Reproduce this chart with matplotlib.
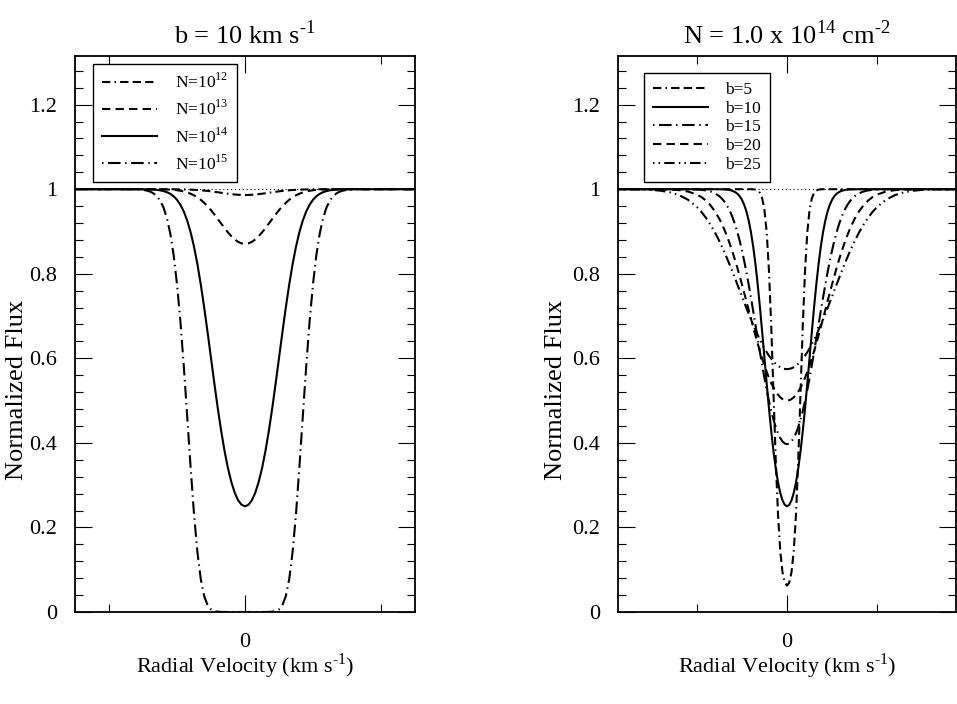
import matplotlib
matplotlib.use("Agg")
import matplotlib.pyplot as plt
import numpy as np
from matplotlib.ticker import MultipleLocator, FormatStrFormatter

plt.rcParams['font.family'] = ['Liberation Serif', 'DejaVu Serif']
plt.rcParams['mathtext.fontset'] = 'custom'
plt.rcParams['mathtext.rm'] = 'Liberation Serif'

# velocity grid (km/s), profiles are symmetric so only v >= 0 is listed
vel = [0, 1, 2, 3, 4, 5, 6, 7, 8, 9, 10, 11, 12, 13, 14, 15, 16, 17, 18, 19,
       20, 21, 22, 23, 24, 25, 26, 27, 28, 29, 30,
       32, 34, 36, 38, 40, 44, 48, 52, 56, 60, 66, 75]

# left panel: b = 10 km/s, varying column density
flux_n12 = [0.9862, 0.9864, 0.9868, 0.9874, 0.9883, 0.9893, 0.9904, 0.9915, 0.9927, 0.9938,
            0.9949, 0.9959, 0.9967, 0.9974, 0.9980, 0.9985, 0.9989, 0.9992, 0.9995, 0.9996,
            0.9997, 0.9998, 0.9999, 1, 1, 1, 1, 1, 1, 1, 1,
            1, 1, 1, 1, 1, 1, 1, 1, 1, 1, 1, 1]
flux_n13 = [0.8706, 0.8718, 0.8753, 0.8810, 0.8886, 0.8977, 0.9078, 0.9186, 0.9295, 0.9402,
            0.9503, 0.9595, 0.9677, 0.9748, 0.9807, 0.9855, 0.9893, 0.9923, 0.9946, 0.9963,
            0.9975, 0.9983, 0.9989, 0.9993, 0.9996, 0.9997, 0.9998, 0.9999, 1, 1, 1,
            1, 1, 1, 1, 1, 1, 1, 1, 1, 1, 1, 1]
flux_n14 = [0.2500, 0.2535, 0.2640, 0.2817, 0.3069, 0.3397, 0.3801, 0.4277, 0.4814, 0.5397,
            0.6005, 0.6614, 0.7200, 0.7743, 0.8226, 0.8641, 0.8984, 0.9258, 0.9472, 0.9632,
            0.9749, 0.9833, 0.9891, 0.9930, 0.9956, 0.9973, 0.9984, 0.9991, 0.9995, 0.9997, 0.9998,
            1, 1, 1, 1, 1, 1, 1, 1, 1, 1, 1, 1]
flux_n15 = [0.0000, 0.0000, 0.0000, 0.0000, 0.0000, 0.0000, 0.0001, 0.0002, 0.0007, 0.0021,
            0.0061, 0.0160, 0.0375, 0.0774, 0.1419, 0.2320, 0.3425, 0.4628, 0.5811, 0.6873,
            0.7757, 0.8449, 0.8961, 0.9325, 0.9572, 0.9736, 0.9840, 0.9906, 0.9946, 0.9969, 0.9983,
            0.9995, 0.9999, 1, 1, 1, 1, 1, 1, 1, 1, 1, 1]

# right panel: N = 1e14, varying b
flux_b5 = [0.0625, 0.0697, 0.0942, 0.1445, 0.2318, 0.3606, 0.5185, 0.6767, 0.8071, 0.8971,
           0.9505, 0.9783, 0.9913, 0.9968, 0.9989, 0.9997, 1, 1, 1, 1,
           1, 1, 1, 1, 1, 1, 1, 1, 1, 1, 1,
           1, 1, 1, 1, 1, 1, 1, 1, 1, 1, 1, 1]
flux_b10 = [0.2500, 0.2535, 0.2640, 0.2817, 0.3069, 0.3397, 0.3801, 0.4277, 0.4814, 0.5397,
            0.6005, 0.6614, 0.7200, 0.7743, 0.8226, 0.8641, 0.8984, 0.9258, 0.9472, 0.9632,
            0.9749, 0.9833, 0.9891, 0.9930, 0.9956, 0.9973, 0.9984, 0.9991, 0.9995, 0.9997, 0.9998,
            1, 1, 1, 1, 1, 1, 1, 1, 1, 1, 1, 1]
flux_b15 = [0.3969, 0.3985, 0.4034, 0.4115, 0.4228, 0.4374, 0.4550, 0.4755, 0.4989, 0.5248,
            0.5529, 0.5829, 0.6143, 0.6466, 0.6792, 0.7118, 0.7436, 0.7743, 0.8034, 0.8305,
            0.8554, 0.8779, 0.8980, 0.9157, 0.9311, 0.9442, 0.9552, 0.9645, 0.9721, 0.9782, 0.9832,
            0.9903, 0.9946, 0.9971, 0.9985, 0.9992, 0.9998, 1, 1, 1, 1, 1, 1]
flux_b20 = [0.5000, 0.5009, 0.5035, 0.5078, 0.5138, 0.5215, 0.5307, 0.5416, 0.5540, 0.5678,
            0.5829, 0.5992, 0.6166, 0.6349, 0.6540, 0.6738, 0.6939, 0.7142, 0.7347, 0.7549,
            0.7749, 0.7944, 0.8133, 0.8314, 0.8486, 0.8648, 0.8799, 0.8940, 0.9070, 0.9188, 0.9296,
            0.9478, 0.9622, 0.9732, 0.9814, 0.9874, 0.9945, 0.9978, 0.9992, 0.9997, 1, 1, 1]
flux_b25 = [0.5744, 0.5749, 0.5764, 0.5789, 0.5825, 0.5870, 0.5925, 0.5989, 0.6062, 0.6144,
            0.6234, 0.6333, 0.6438, 0.6550, 0.6668, 0.6792, 0.6920, 0.7052, 0.7188, 0.7326,
            0.7465, 0.7605, 0.7744, 0.7883, 0.8020, 0.8155, 0.8286, 0.8414, 0.8537, 0.8655, 0.8769,
            0.8979, 0.9165, 0.9326, 0.9465, 0.9580, 0.9753, 0.9862, 0.9927, 0.9963, 0.9983, 0.9995, 0.9999]

left_labels = ['N=10$^{\\mathregular{12}}$', 'N=10$^{\\mathregular{13}}$',
               'N=10$^{\\mathregular{14}}$', 'N=10$^{\\mathregular{15}}$']
right_labels = ['b=5', 'b=10', 'b=15', 'b=20', 'b=25']

# grace-like line styles
dash_dot_dash = (0, (4, 2, 0.7, 2, 4, 2, 4, 2))
dashed = (0, (4, 2.5))
solid = '-'
dot_dash = (0, (0.7, 2.2, 6, 2.2))
dot_dot_dash = (0, (0.7, 2, 0.7, 2, 5, 2))

HY = '\u2010'  # short hyphen for the superscripts, like the original


def mirror(v, f):
    v = np.asarray(v, float)
    f = np.asarray(f, float)
    return np.concatenate([-v[:0:-1], v]), np.concatenate([f[:0:-1], f])


def style_axes(ax, xlim, ylab_x):
    ax.set_xlim(*xlim)
    ax.set_ylim(0, 1.315)
    ax.xaxis.set_major_locator(MultipleLocator(80))
    ax.xaxis.set_minor_locator(MultipleLocator(40))
    ax.yaxis.set_major_locator(MultipleLocator(0.2))
    ax.yaxis.set_minor_locator(MultipleLocator(0.04))
    ax.yaxis.set_major_formatter(FormatStrFormatter('%g'))
    ax.xaxis.set_major_formatter(FormatStrFormatter('%g'))
    ax.tick_params(which='both', direction='in', top=True, right=True,
                   labelsize=16, width=0.8)
    ax.tick_params(axis='y', pad=13)
    ax.tick_params(axis='x', pad=15)
    ax.tick_params(which='major', length=12)
    ax.tick_params(which='minor', length=6)
    for s in ax.spines.values():
        s.set_linewidth(1.3)
    ax.axhline(1.0, color='black', lw=0.8, ls=(0, (1, 2.5)), zorder=1)
    ax.set_ylabel('Normalized Flux', fontsize=19)
    ax.yaxis.set_label_coords(ylab_x, 0.40)
    ax.set_xlabel('Radial Velocity (km s$^{\\mathregular{' + HY + '1}}$)',
                  fontsize=16, labelpad=0)


fig = plt.figure(figsize=(9.57, 7.04), dpi=100)
ax1 = fig.add_axes([75 / 957, 1 - 612 / 704, 340 / 957, 556 / 704])
ax2 = fig.add_axes([618 / 957, 1 - 612 / 704, 338 / 957, 556 / 704])

style_axes(ax1, (-50, 50), -0.137)
style_axes(ax2, (-75, 75), -0.150)

left_series = [flux_n12, flux_n13, flux_n14, flux_n15]
left_styles = [dash_dot_dash, dashed, solid, dot_dash]
for f, ls, lab in zip(left_series, left_styles, left_labels):
    x, y = mirror(vel, f)
    ax1.plot(x, y, color='black', lw=1.5, ls=ls, label=lab, zorder=2)

right_series = [flux_b5, flux_b10, flux_b15, flux_b20, flux_b25]
right_styles = [dash_dot_dash, solid, dot_dash, dashed, dot_dot_dash]
for f, ls, lab in zip(right_series, right_styles, right_labels):
    x, y = mirror(vel, f)
    ax2.plot(x, y, color='black', lw=1.5, ls=ls, label=lab, zorder=2)

ax1.set_title('b = 10 km s$^{\\mathregular{' + HY + '1}}$', fontsize=19, pad=9)
ax2.set_title('N = 1.0 x 10$^{\\mathregular{14}}$ cm$^{\\mathregular{' + HY + '2}}$',
              fontsize=19, pad=9)

leg_kw = dict(loc='upper left', fontsize=12.5, fancybox=False, framealpha=1,
              edgecolor='black', handlelength=3.2, handletextpad=1.0,
              borderaxespad=0, borderpad=0.5)
l1 = ax1.legend(bbox_to_anchor=(18 / 340, 548 / 556), labelspacing=0.45, **leg_kw)
l2 = ax2.legend(bbox_to_anchor=(26 / 340, 539 / 556), labelspacing=0.15, **leg_kw)
for lg in (l1, l2):
    lg.get_frame().set_linewidth(1.0)

fig.savefig('out.png', dpi=100)
